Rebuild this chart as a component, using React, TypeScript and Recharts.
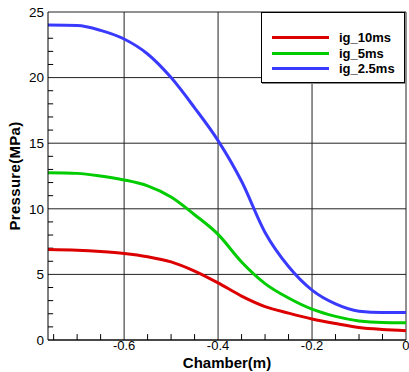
import { LineChart, Line, XAxis, YAxis, CartesianGrid, ReferenceLine } from 'recharts';

const chamber = [-0.762, -0.7, -0.65, -0.6, -0.55, -0.5, -0.45, -0.4, -0.35, -0.3, -0.25, -0.2, -0.15, -0.1, -0.05, 0];
const ig10ms = [6.9, 6.85, 6.75, 6.6, 6.35, 5.95, 5.25, 4.35, 3.35, 2.55, 2.05, 1.6, 1.25, 0.95, 0.8, 0.71];
const ig5ms = [12.75, 12.7, 12.5, 12.2, 11.75, 10.9, 9.55, 8.05, 5.95, 4.3, 3.2, 2.35, 1.8, 1.45, 1.33, 1.32];
const ig25ms = [24.0, 23.97, 23.6, 22.94, 21.8, 20.0, 17.7, 15.2, 12.1, 8.2, 5.6, 3.8, 2.75, 2.2, 2.1, 2.1];

const xTicks = [-0.6, -0.4, -0.2, 0];
const yTicks = [0, 5, 10, 15, 20, 25];
const xMinor = [-0.75, -0.7, -0.65, -0.55, -0.5, -0.45, -0.35, -0.3, -0.25, -0.15, -0.1, -0.05];
const yMinor = [1, 2, 3, 4, 6, 7, 8, 9, 11, 12, 13, 14, 16, 17, 18, 19, 21, 22, 23, 24];

const series = [
  { key: 'ig10ms', name: 'ig_10ms', color: '#dd0000' },
  { key: 'ig5ms', name: 'ig_5ms', color: '#00cc00' },
  { key: 'ig25ms', name: 'ig_2.5ms', color: '#3a3aff' },
];

const data = chamber.map((x, i) => ({ x, ig10ms: ig10ms[i], ig5ms: ig5ms[i], ig25ms: ig25ms[i] }));

const font = '"Liberation Sans", Arial, sans-serif';
const xMin = -0.762;

export default function App() {
  return (
    <div style={{ position: 'relative', width: 409, height: 372, fontFamily: font }}>
      <style>{'body{margin:0}'}</style>
      <LineChart width={409} height={372} data={data} margin={{ top: 12, right: 3, left: 0, bottom: 0 }}>
        <CartesianGrid stroke="#222" strokeWidth={1} horizontalValues={yTicks} verticalValues={xTicks} />
        <XAxis
          dataKey="x"
          type="number"
          domain={[xMin, 0]}
          allowDataOverflow
          ticks={xTicks}
          height={32}
          tickSize={0}
          tickMargin={1}
          axisLine={{ stroke: '#000' }}
          tick={{ fill: '#000', fontSize: 13, fontFamily: font }}
          label={{ value: 'Chamber(m)', position: 'center', dy: 7, fill: '#000', fontSize: 15, fontWeight: 'bold', fontFamily: font }}
        />
        <YAxis
          type="number"
          domain={[0, 25]}
          ticks={yTicks}
          width={48}
          tickSize={0}
          tickMargin={4}
          axisLine={{ stroke: '#000' }}
          tick={{ fill: '#000', fontSize: 13.5, fontFamily: font }}
          label={{ value: 'Pressure(MPa)', angle: -90, position: 'center', dx: -9, fill: '#000', fontSize: 15, fontWeight: 'bold', letterSpacing: 0.3, fontFamily: font }}
        />
        {xMinor.map((v) => (
          <ReferenceLine key={'xm' + v} segment={[{ x: v, y: 0 }, { x: v, y: 0.45 }]} stroke="#000" ifOverflow="visible" />
        ))}
        {yMinor.map((v) => (
          <ReferenceLine key={'ym' + v} segment={[{ x: xMin, y: v }, { x: xMin + 0.011, y: v }]} stroke="#000" ifOverflow="visible" />
        ))}
        {series.map((s) => (
          <Line key={s.key} type="monotone" dataKey={s.key} stroke={s.color} strokeWidth={3} dot={false} isAnimationActive={false} />
        ))}
      </LineChart>
      <div
        style={{
          position: 'absolute',
          left: 261,
          top: 12,
          width: 144,
          height: 71,
          background: '#fff',
          border: '1px solid #000',
          boxShadow: '1px 1px 0 #888',
          boxSizing: 'border-box',
          paddingTop: 17,
        }}
      >
        {series.map((s) => (
          <div key={s.key} style={{ display: 'flex', alignItems: 'center', height: 15.5 }}>
            <div style={{ marginLeft: 10, width: 57, height: 3, background: s.color }} />
            <span style={{ marginLeft: 10, fontSize: 13, fontWeight: 'bold', color: '#000', lineHeight: '15px' }}>{s.name}</span>
          </div>
        ))}
      </div>
    </div>
  );
}
